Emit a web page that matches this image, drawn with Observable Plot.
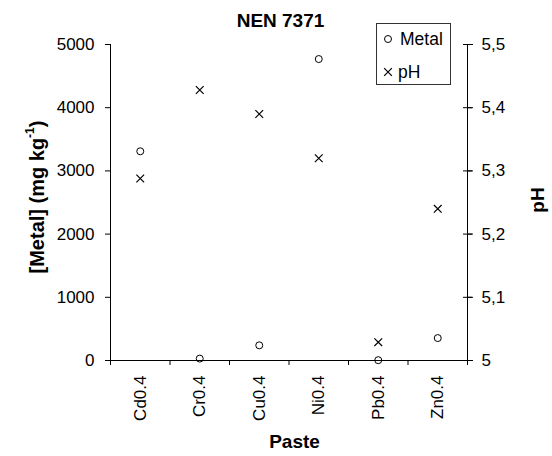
<!DOCTYPE html>
<html><head><meta charset="utf-8">
<script src="https://cdn.jsdelivr.net/npm/d3@7"></script>
<script src="https://cdn.jsdelivr.net/npm/@observablehq/plot@0.6"></script>
<style>body{margin:0;background:#fff;} svg{font-family:"Liberation Sans",Arial,sans-serif;}</style>
</head><body><div id="chart"></div>
<script>
const categories = ["Cd0.4", "Cr0.4", "Cu0.4", "Ni0.4", "Pb0.4", "Zn0.4"];
const metalValues = [3310, 30, 240, 4770, 5, 355];
const phValues = [5.288, 5.428, 5.390, 5.320, 5.029, 5.240];
const metalTicks = [0, 1000, 2000, 3000, 4000, 5000];
const phTicks = [5, 5.1, 5.2, 5.3, 5.4, 5.5];
const metalDomain = [0, 5000];
const phDomain = [5, 5.5];
const titleText = "NEN 7371";
const xTitle = "Paste";
const yTitle = "[Metal] (mg kg";
const yTitleSup = "-1";
const y2Title = "pH";
const legendLabels = ["Metal", "pH"];

const phToMetal = p => (p - phDomain[0]) / (phDomain[1] - phDomain[0]) * (metalDomain[1] - metalDomain[0]) + metalDomain[0];
const metalToPh = m => (m - metalDomain[0]) / (metalDomain[1] - metalDomain[0]) * (phDomain[1] - phDomain[0]) + phDomain[0];

const rows = categories.map((c, i) => ({c, i: i + 0.5, metal: metalValues[i], ph: phValues[i], phY: phToMetal(phValues[i])}));
const boundaries = d3.range(categories.length + 1);
const centers = categories.map((c, i) => i + 0.5);
const fmtPh = v => String(+metalToPh(v).toFixed(1)).replace(".", ",");

const W = 552, H = 456;
const mL = 110, mR = 85, mT = 44, mB = 96;
const rCircle = 3.5, rTimes = 3.6;

const plot = Plot.plot({
  width: W, height: H,
  marginLeft: mL, marginRight: mR, marginTop: mT, marginBottom: mB,
  style: {fontFamily: "'Liberation Sans', Arial, sans-serif", fontSize: "17px", color: "#000", background: "#fff", overflow: "visible"},
  x: {domain: [0, categories.length], axis: null},
  y: {domain: metalDomain, axis: null},
  marks: [
    Plot.axisY({anchor: "left", ticks: metalTicks, tickSize: 5, tickPadding: 11, label: null, tickFormat: d => String(d)}),
    Plot.axisY({anchor: "right", ticks: phTicks.map(phToMetal), tickSize: 10, insetRight: 5, tickFormat: () => "", label: null}),
    Plot.axisY({anchor: "right", ticks: phTicks.map(phToMetal), tickSize: 4, tickPadding: 10, tickFormat: fmtPh, label: null}),
    Plot.axisX({ticks: boundaries, tickSize: 5, tickFormat: () => "", label: null}),
    Plot.axisX({ticks: centers, tickSize: 0, tickPadding: 15, tickRotate: -90, tickFormat: v => categories[Math.round(v - 0.5)], label: null}),
    Plot.ruleX([0, categories.length], {stroke: "#000"}),
    Plot.ruleY([0], {stroke: "#000"}),
    Plot.dot(rows, {x: "i", y: "metal", symbol: "circle", r: rCircle, stroke: "#000", strokeWidth: 1}),
    Plot.dot(rows, {x: "i", y: "phY", symbol: "times", r: rTimes, stroke: "#000", strokeWidth: 1.2})
  ]
});
document.getElementById("chart").appendChild(plot);

const svg = d3.select(plot);
const xC = mL + (W - mL - mR) / 2;
const yC = mT + (H - mT - mB) / 2;
svg.append("text").attr("x", xC - 8).attr("y", 20).attr("text-anchor", "middle").attr("dominant-baseline", "central")
  .attr("font-weight", "bold").attr("font-size", 19).text(titleText);
svg.append("text").attr("x", xC + 6).attr("y", 441).attr("text-anchor", "middle").attr("dominant-baseline", "central")
  .attr("font-weight", "bold").attr("font-size", 19).text(xTitle);
const yt = svg.append("text").attr("transform", `translate(37,${yC - 5}) rotate(-90)`).attr("text-anchor", "middle")
  .attr("dominant-baseline", "central").attr("font-weight", "bold").attr("font-size", 20);
yt.append("tspan").text(yTitle);
yt.append("tspan").attr("font-size", 12).attr("dy", -7).text(yTitleSup);
yt.append("tspan").attr("dy", 7).text(")");
svg.append("text").attr("transform", `translate(537,${yC - 2}) rotate(-90)`).attr("text-anchor", "middle")
  .attr("dominant-baseline", "central").attr("font-weight", "bold").attr("font-size", 19).text(y2Title);

// legend
const lg = svg.append("g");
lg.append("rect").attr("x", 376.5).attr("y", 23.5).attr("width", 74).attr("height", 61).attr("fill", "#fff").attr("stroke", "#333");
lg.append("path").attr("transform", "translate(388,39)").attr("d", d3.symbol(d3.symbolCircle, Math.PI * rCircle * rCircle)()).attr("fill", "none").attr("stroke", "#000");
lg.append("path").attr("transform", "translate(388,72)").attr("d", d3.symbol(d3.symbolTimes, Math.PI * rTimes * rTimes)()).attr("fill", "none").attr("stroke", "#000").attr("stroke-width", 1.2);
lg.append("text").attr("x", 400).attr("y", 39).attr("text-anchor", "start").attr("dominant-baseline", "central").attr("font-size", 17.5).text(legendLabels[0]);
lg.append("text").attr("x", 398).attr("y", 72).attr("text-anchor", "start").attr("dominant-baseline", "central").attr("font-size", 17.5).text(legendLabels[1]);
</script>
</body></html>
